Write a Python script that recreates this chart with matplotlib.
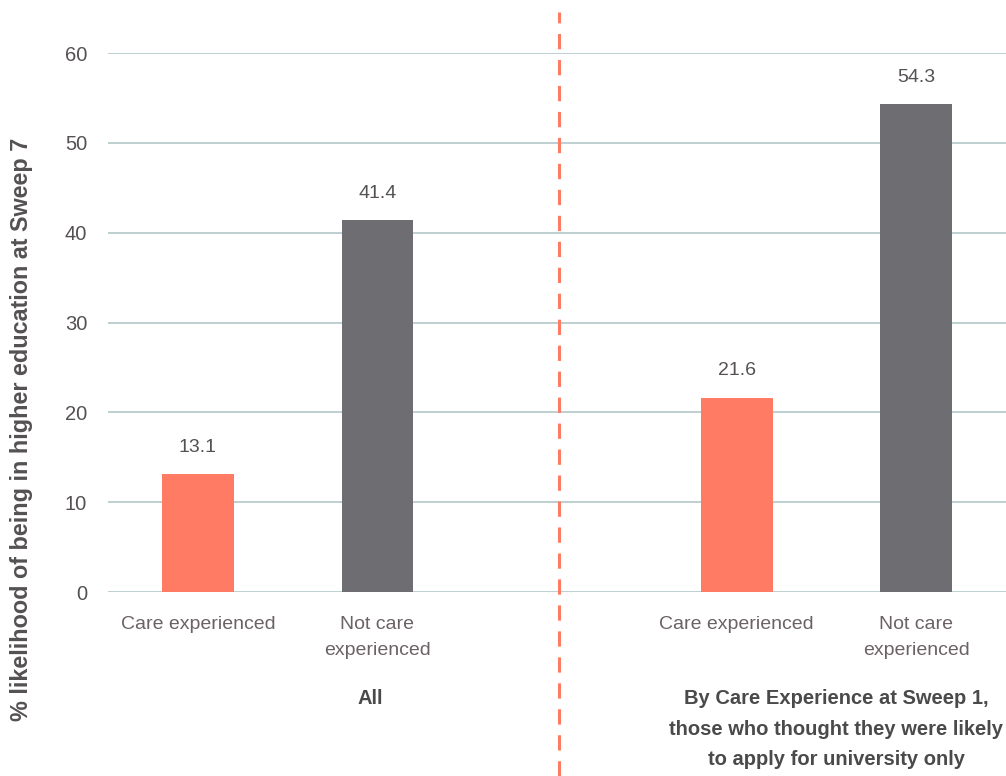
import matplotlib.pyplot as plt
from matplotlib.lines import Line2D

plt.rcParams['font.family'] = ['Liberation Sans', 'DejaVu Sans']

categories = ['Care experienced', 'Not care\nexperienced', 'Care experienced', 'Not care\nexperienced']
values = [13.1, 41.4, 21.6, 54.3]
positions = [0, 1, 3, 4]
group_labels = ['All', 'By Care Experience at Sweep 1,\nthose who thought they were likely\nto apply for university only']
group_centers = [0.96, 3.555]
yticks = [0, 10, 20, 30, 40, 50, 60]

CORAL = '#FF7B63'
GREY = '#6E6D72'
colors = [CORAL, GREY, CORAL, GREY]

fig = plt.figure(figsize=(10.06, 7.76), dpi=100)
ax = fig.add_axes([0.1074, 0.2371, 0.8926, 0.6946])

for y in yticks:
    ax.axhline(y, color='#B7CBCE', linewidth=1.3, zorder=0)

bars = ax.bar(positions, values, width=0.4, color=colors, zorder=2)
for b, v in zip(bars, values):
    ax.annotate(f'{v:.1f}', (b.get_x() + b.get_width() / 2, v),
                xytext=(0, 19.5), textcoords='offset points',
                ha='center', va='center', fontsize=14, color='#555152')

ax.set_xlim(-0.5, 4.5)
ax.set_ylim(0, 60)
ax.set_yticks(yticks)
ax.set_xticks(positions)
ax.set_xticklabels(categories, fontsize=14, color='#6B6264', linespacing=1.7)
ax.tick_params(axis='both', length=0)
ax.tick_params(axis='x', pad=17)
ax.tick_params(axis='y', pad=15, labelsize=14.5, labelcolor='#555152')
for s in ax.spines.values():
    s.set_visible(False)

ax.set_ylabel('% likelihood of being in higher education at Sweep 7',
              fontsize=16.8, fontweight='bold', color='#555152')
ax.yaxis.set_label_coords(-0.084, 0.302)

# group captions under the category labels
for x, lbl in zip(group_centers, group_labels):
    ax.text(x, -10.85, lbl, ha='center', va='top', fontsize=14.5,
            fontweight='bold', color='#4A4A4A', linespacing=1.75)

# dashed divider between the two groups, running the full figure height
x_fig = fig.transFigure.inverted().transform(ax.transData.transform((2.01, 0)))[0]
divider = Line2D([x_fig, x_fig], [0, 0.985], transform=fig.transFigure,
                 color=CORAL, linewidth=2.2, dashes=(5, 3.5))
fig.add_artist(divider)

fig.savefig('out.png', dpi=100)
